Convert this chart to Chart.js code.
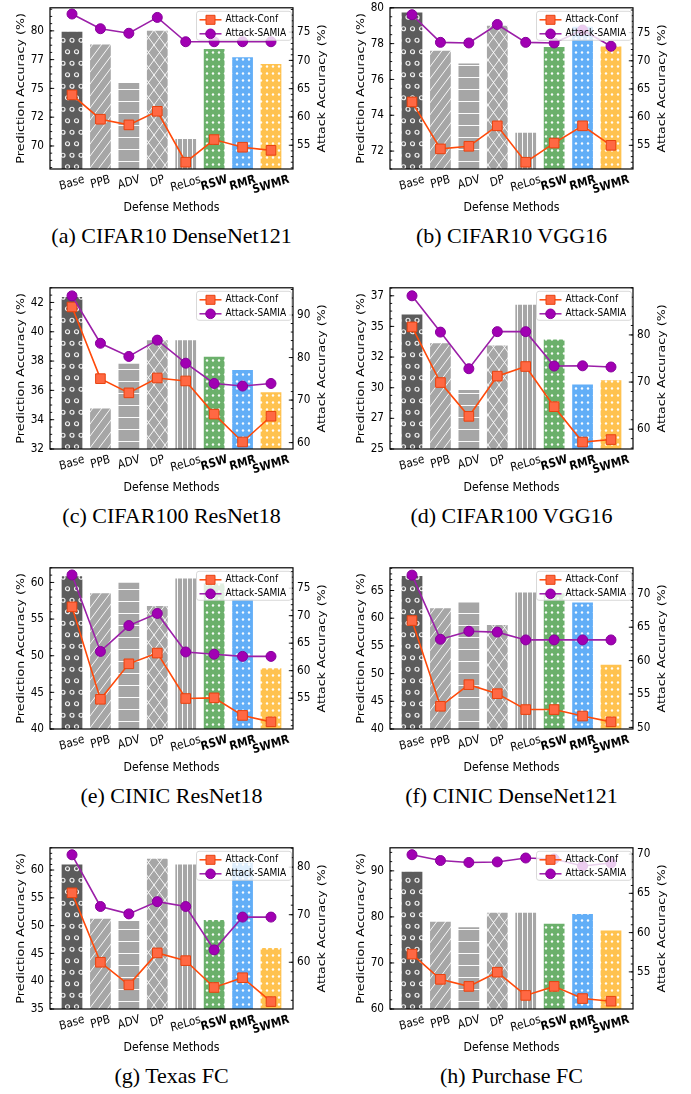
<!DOCTYPE html>
<html>
<head>
<meta charset="utf-8">
<script src="https://cdn.jsdelivr.net/npm/chart.js@4.4.1/dist/chart.umd.min.js"></script>
<style>
  body { margin: 0; background: #fff; }
  #page { position: relative; width: 691px; height: 1094px; overflow: hidden; }
  #page canvas { position: absolute; }
  .caption {
    position: absolute; width: 345px; text-align: center; white-space: nowrap;
    font: 22px "Liberation Serif", "Times New Roman", serif; line-height: 24px; color: #000;
  }
</style>
</head>
<body>
<div id="page"></div>
<script>
const methods = ['Base', 'PPB', 'ADV', 'DP', 'ReLos', 'RSW', 'RMR', 'SWMR'];
const captions = ['(a) CIFAR10 DenseNet121', '(b) CIFAR10 VGG16', '(c) CIFAR100 ResNet18', '(d) CIFAR100 VGG16',
  '(e) CINIC ResNet18', '(f) CINIC DenseNet121', '(g) Texas FC', '(h) Purchase FC'];

// prediction accuracy per defense (bars, left axis), one row per subplot
const predAcc = [
  [80.0, 78.9, 75.55, 80.1, 70.7, 78.5, 77.8, 77.2],
  [79.8, 77.66, 76.95, 79.06, 73.08, 77.87, 79.0, 77.9],
  [42.44, 34.84, 37.88, 39.49, 39.49, 38.37, 37.46, 35.94],
  [36.06, 33.7, 29.9, 33.52, 36.85, 34.01, 30.35, 30.69],
  [61.0, 58.68, 60.09, 56.92, 60.66, 60.0, 57.8, 48.44],
  [67.8, 61.96, 63.0, 58.97, 64.82, 64.7, 63.0, 51.8],
  [61.16, 51.4, 51.0, 62.2, 61.16, 51.2, 61.5, 46.16],
  [90.0, 79.16, 77.97, 81.12, 81.12, 78.74, 80.84, 77.27]
];
// attack accuracy (right axis)
const confAcc = [
  [63.9, 59.6, 58.6, 61.0, 52.0, 56.0, 54.65, 54.1],
  [62.7, 54.37, 54.83, 58.46, 52.0, 55.4, 58.46, 55.0],
  [91.9, 75.04, 71.7, 75.2, 74.5, 66.7, 60.15, 66.2],
  [81.7, 69.9, 62.73, 71.26, 73.3, 64.78, 57.27, 57.8],
  [71.6, 54.8, 61.25, 63.2, 54.94, 55.06, 51.87, 50.7],
  [66.0, 53.16, 56.4, 55.05, 52.67, 52.67, 51.7, 50.83],
  [74.6, 60.0, 55.25, 61.97, 60.34, 54.7, 56.75, 51.73],
  [57.26, 54.05, 53.15, 54.96, 52.0, 53.15, 51.6, 51.26]
];
const samiaAcc = [
  [78.2, 75.6, 74.8, 77.6, 73.3, 73.3, 73.3, 73.3],
  [78.17, 73.27, 73.16, 76.44, 73.27, 73.16, 75.46, 72.58],
  [94.5, 83.36, 80.26, 84.1, 78.67, 73.9, 73.3, 73.9],
  [88.3, 80.6, 72.83, 80.7, 80.7, 73.4, 73.45, 73.2],
  [77.4, 63.5, 68.2, 70.4, 63.4, 63.0, 62.6, 62.6],
  [72.8, 63.2, 64.4, 64.27, 63.1, 63.1, 63.1, 63.1],
  [82.6, 71.73, 70.17, 72.75, 71.73, 62.6, 69.5, 69.5],
  [69.92, 69.18, 68.93, 69.0, 69.5, 69.38, 68.48, 68.86]
];
const leftRange = [[68, 82], [71, 80], [32, 43], [25, 38.15], [40, 62], [40, 69.1], [35, 64], [60, 95]];
const leftTicks = [
  [70, 72.5, 75, 77.5, 80], [72, 74, 76, 78, 80], [32, 34, 36, 38, 40, 42], [25, 27.5, 30, 32.5, 35, 37.5],
  [40, 45, 50, 55, 60], [40, 45, 50, 55, 60, 65], [35, 40, 45, 50, 55, 60], [60, 70, 80, 90]
];
const rightRange = [[50.8, 79.3], [50.8, 79.4], [58.5, 96.4], [55.8, 90], [49.4, 78.7], [49.76, 73.9], [50.17, 84.07], [50.27, 70.8]];
const rightTicks = [
  [55, 60, 65, 70, 75], [55, 60, 65, 70, 75], [60, 70, 80, 90], [60, 70, 80],
  [55, 60, 65, 70, 75], [50, 55, 60, 65, 70], [60, 70, 80], [55, 60, 65, 70]
];

const barColors = ['#5c5c5c', '#a6a6a6', '#a6a6a6', '#a6a6a6', '#a6a6a6', '#6bb06b', '#62aef7', '#ffc24f'];
const barHatch = ['o', '/', '-', 'x', '|', '.', '.', '.'];

const FONT = '"DejaVu Sans", sans-serif';
const STRETCH = 1.15;   // text in the figure is taller than it is wide
const PLOT_TOP = 3, PLOT_BOTTOM = 169, PLOT_W = 243, CANVAS_H = 222;

// stretch every glyph vertically (page space) around its anchor point
function stretchText(ctx) {
  const fill = ctx.fillText.bind(ctx);
  ctx.fillText = function (text, x, y, maxWidth) {
    const m = ctx.getTransform();
    const p = m.transformPoint(new DOMPoint(x, y));
    ctx.save();
    ctx.setTransform(new DOMMatrix().translate(p.x, p.y).scale(1, STRETCH).translate(-p.x, -p.y).multiply(m));
    if (maxWidth === undefined) fill(text, x, y); else fill(text, x, y, maxWidth);
    ctx.restore();
  };
}

function makeHatch(ctx, color, kind) {
  const sizes = { 'o': [9, 23], '/': [9, 12], '-': [4, 12], 'x': [11, 15], '|': [5, 4], '.': [6, 7] };
  const [w, h] = sizes[kind];
  const tile = document.createElement('canvas');
  tile.width = w; tile.height = h;
  const g = tile.getContext('2d');
  g.fillStyle = color;
  g.fillRect(0, 0, w, h);
  g.strokeStyle = 'rgba(255,255,255,0.92)';
  g.fillStyle = 'rgba(255,255,255,0.95)';
  g.lineWidth = 1;
  g.beginPath();
  if (kind === 'o') {
    g.lineWidth = 1.2;
    [[w / 2, h / 4], [0, 3 * h / 4], [w, 3 * h / 4]].forEach(([cx, cy]) => {
      g.moveTo(cx + 2, cy);
      g.arc(cx, cy, 2, 0, Math.PI * 2);
    });
    g.stroke();
  } else if (kind === '/') {
    for (let s = -1; s <= 1; s++) { g.moveTo(s * w, h); g.lineTo((s + 1) * w, 0); }
    g.stroke();
  } else if (kind === 'x') {
    for (let s = -1; s <= 1; s++) {
      g.moveTo(s * w, 0); g.lineTo((s + 1) * w, h);
      g.moveTo(s * w, h); g.lineTo((s + 1) * w, 0);
    }
    g.stroke();
  } else if (kind === '-') {
    g.fillRect(0, 5, w, 1);
  } else if (kind === '|') {
    g.fillRect(2, 0, 1, h);
  } else {
    g.arc(3, 3.5, 1.2, 0, Math.PI * 2);
    g.fill();
  }
  return ctx.createPattern(tile, 'repeat');
}

// inward major/minor ticks along a vertical spine
function drawYTicks(ctx, scale, x0, dir) {
  const vals = scale.ticks.map(t => t.value);
  const step = vals[1] - vals[0];
  const mant = Math.round(step / Math.pow(10, Math.floor(Math.log10(step))) * 100) / 100;
  const minor = step / ([1, 5, 10].includes(mant) ? 5 : 4);
  ctx.beginPath();
  const i0 = Math.ceil(scale.min / minor - 1e-6), i1 = Math.floor(scale.max / minor + 1e-6);
  for (let i = i0; i <= i1; i++) {
    const y = scale.getPixelForValue(i * minor);
    ctx.moveTo(x0, y); ctx.lineTo(x0 + dir * 2.2, y);
  }
  vals.forEach(v => {
    const y = scale.getPixelForValue(v);
    ctx.moveTo(x0, y); ctx.lineTo(x0 + dir * 4.2, y);
  });
  ctx.stroke();
}

const decorations = {
  id: 'decorations',
  afterDraw(chart) {
    const { ctx, chartArea: a, scales } = chart;
    ctx.save();
    // frame and ticks
    ctx.strokeStyle = '#000';
    ctx.lineWidth = 1.2;
    ctx.strokeRect(a.left, a.top, a.right - a.left, a.bottom - a.top);
    ctx.lineWidth = 0.9;
    drawYTicks(ctx, scales.y, a.left, 1);
    drawYTicks(ctx, scales.y2, a.right, -1);

    // category labels, rotated about their centre
    ctx.fillStyle = '#000';
    ctx.textAlign = 'center';
    ctx.textBaseline = 'middle';
    const th = 15 * Math.PI / 180;
    methods.forEach((m, i) => {
      ctx.font = (i >= 5 ? 'bold ' : '') + '10.5px ' + FONT;
      const w = ctx.measureText(m).width;
      const bh = (w * Math.sin(th) + 10.5 * Math.cos(th)) * STRETCH;
      ctx.save();
      ctx.translate(scales.x.getPixelForValue(i), a.bottom + 4.5 + bh / 2);
      ctx.rotate(-th);
      ctx.fillText(m, 0, 0);
      ctx.restore();
    });

    // right axis title, reading bottom to top
    ctx.save();
    ctx.font = '11px ' + FONT;
    ctx.translate(a.right + 29.5, (a.top + a.bottom) / 2);
    ctx.rotate(-Math.PI / 2);
    ctx.fillText('Attack Accuracy (%)', 0, 0);
    ctx.restore();

    // legend for the two attack curves
    const bw = 95, bh = 29;
    const x0 = a.right - 1.5 - bw, y0 = a.top + 3.5;
    ctx.beginPath();
    ctx.roundRect(x0, y0, bw, bh, 2.5);
    ctx.fillStyle = 'rgba(255,255,255,0.8)';
    ctx.fill();
    ctx.strokeStyle = '#cfcfcf';
    ctx.lineWidth = 0.8;
    ctx.stroke();
    ctx.textAlign = 'left';
    ctx.font = '9px ' + FONT;
    chart.data.datasets.filter(d => d.type === 'line').forEach((d, k) => {
      const cy = y0 + 8.5 + k * 14;
      ctx.strokeStyle = d.borderColor;
      ctx.lineWidth = 1.5;
      ctx.beginPath();
      ctx.moveTo(x0 + 3, cy); ctx.lineTo(x0 + 25, cy);
      ctx.stroke();
      ctx.fillStyle = d.pointBackgroundColor;
      ctx.strokeStyle = d.pointBorderColor;
      ctx.lineWidth = 1;
      ctx.beginPath();
      if (d.pointStyle === 'rect') ctx.rect(x0 + 14 - 4.5, cy - 4.5, 9, 9);
      else ctx.arc(x0 + 14, cy, 4.8, 0, Math.PI * 2);
      ctx.fill();
      ctx.stroke();
      ctx.fillStyle = '#000';
      ctx.fillText(d.label, x0 + 29, cy);
    });
    ctx.restore();
  }
};

const page = document.getElementById('page');

function makePanel(k) {
  const col = k % 2, row = Math.floor(k / 2);
  const W = col ? 346 : 345;
  const plotL = col ? 45 : 50, plotR = plotL + PLOT_W;

  const canvas = document.createElement('canvas');
  canvas.width = W;
  canvas.height = CANVAS_H;
  canvas.style.left = (col * 345) + 'px';
  canvas.style.top = (row * 280) + 'px';
  page.appendChild(canvas);

  const cap = document.createElement('div');
  cap.className = 'caption';
  cap.textContent = captions[k];
  cap.style.left = (col * 345 + plotL + PLOT_W / 2 - 172.5) + 'px';
  cap.style.top = (row * 280 + 224) + 'px';
  page.appendChild(cap);

  const ctx = canvas.getContext('2d');
  stretchText(ctx);
  const asPoints = arr => arr.map((v, i) => ({ x: i, y: v }));

  new Chart(canvas, {
    type: 'bar',
    data: {
      datasets: [
        {
          type: 'line', label: 'Attack-Conf', data: asPoints(confAcc[k]), yAxisID: 'y2', order: 2,
          borderColor: '#ff4a0a', borderWidth: 1.6, pointStyle: 'rect', pointRadius: 6.8,
          pointBackgroundColor: '#ff6843', pointBorderColor: '#e8420f', pointBorderWidth: 1
        },
        {
          type: 'line', label: 'Attack-SAMIA', data: asPoints(samiaAcc[k]), yAxisID: 'y2', order: 1,
          borderColor: '#9b1fa8', borderWidth: 1.6, pointStyle: 'circle', pointRadius: 5,
          pointBackgroundColor: '#a100b3', pointBorderColor: '#86009a', pointBorderWidth: 1
        },
        {
          type: 'bar', label: 'Prediction', data: asPoints(predAcc[k]), yAxisID: 'y', order: 3,
          backgroundColor: methods.map((m, i) => makeHatch(ctx, barColors[i], barHatch[i])),
          borderColor: 'rgba(255,255,255,0.55)', borderWidth: 1,
          barPercentage: 0.8, categoryPercentage: 1
        }
      ]
    },
    options: {
      responsive: false,
      animation: false,
      events: [],
      layout: { padding: { top: PLOT_TOP, left: 0, right: 0, bottom: 0 } },
      plugins: { legend: { display: false }, tooltip: { enabled: false } },
      scales: {
        x: {
          type: 'linear', min: -0.774, max: 7.774, offset: false,
          grid: { display: false, drawTicks: false }, border: { display: false },
          ticks: { display: false },
          afterBuildTicks: s => { s.ticks = methods.map((m, i) => ({ value: i })); },
          title: {
            display: true, text: 'Defense Methods', color: '#000',
            font: { family: FONT, size: 11 }, padding: { top: 0, bottom: 7.4 }
          },
          afterFit: s => { s.height = CANVAS_H - PLOT_BOTTOM; }
        },
        y: {
          position: 'left', min: leftRange[k][0], max: leftRange[k][1],
          grid: { display: false, drawTicks: false }, border: { display: false },
          afterBuildTicks: s => { s.ticks = leftTicks[k].map(v => ({ value: v })); },
          ticks: { callback: v => Math.floor(v), color: '#000', font: { family: FONT, size: 10.5 }, padding: 6 },
          title: {
            display: true, text: 'Prediction Accuracy (%)', color: '#000',
            font: { family: FONT, size: 11 }, padding: { top: plotL - 28.5 - 6.6, bottom: 0 }
          },
          afterFit: s => { s.width = plotL; s.paddingTop = 0; s.paddingBottom = 0; }
        },
        y2: {
          position: 'right', min: rightRange[k][0], max: rightRange[k][1],
          grid: { display: false, drawTicks: false }, border: { display: false },
          afterBuildTicks: s => { s.ticks = rightTicks[k].map(v => ({ value: v })); },
          ticks: { color: '#000', font: { family: FONT, size: 10.5 }, padding: 4 },
          afterFit: s => { s.width = W - plotR; s.paddingTop = 0; s.paddingBottom = 0; }
        }
      }
    },
    plugins: [decorations]
  });
}

for (let k = 0; k < 8; k++) makePanel(k);
</script>
</body>
</html>
